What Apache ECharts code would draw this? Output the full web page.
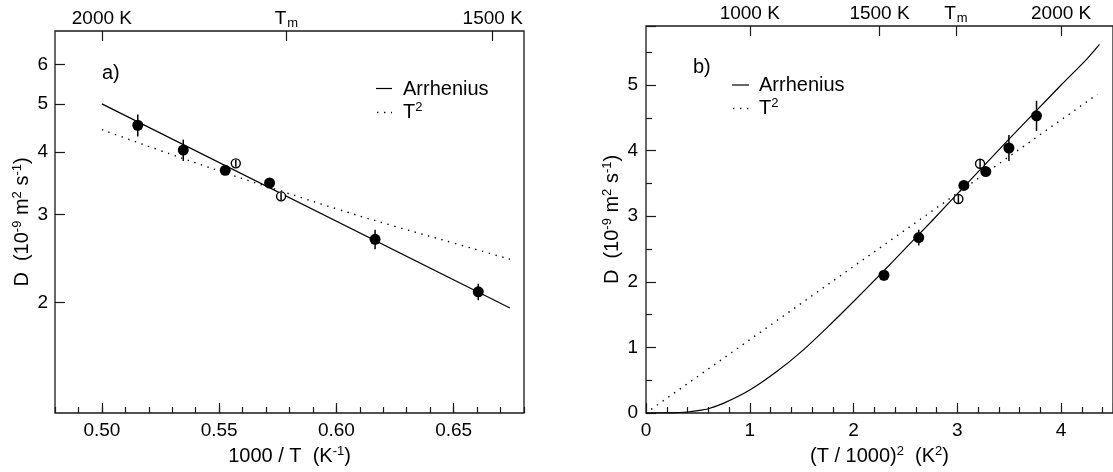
<!DOCTYPE html>
<html>
<head>
<meta charset="utf-8">
<script src="https://cdn.jsdelivr.net/npm/echarts@6/dist/echarts.min.js"></script>
<style>html,body{margin:0;padding:0;background:#fff}#c{width:1113px;height:472px}</style>
</head>
<body>
<div id="c"></div>
<script>
// ---------- data ----------
// panel a) : x = 1000/T (1/K), y = D (1e-9 m^2/s)
const filledInvT = [0.5153, 0.5347, 0.5526, 0.5715, 0.6165, 0.6605];
const filledD    = [4.53, 4.04, 3.68, 3.47, 2.675, 2.10];
const filledErr  = [0.23, 0.20, 0.03, 0.03, 0.12, 0.08];
const openInvT   = [0.5571, 0.5764];
const openD      = [3.80, 3.263];
const openErr    = [0.06, 0.06];
// panel b) : x = (T/1000)^2
const filledTsq  = [3.763, 3.497, 3.274, 3.063, 2.628, 2.293];
const openTsq    = [3.219, 3.010];

// fitted curves, panel a)
const arrhAX = [0.500, 0.674];
const arrhAY = [5.00, 1.948];
const t2AX   = [0.500, 0.525, 0.550, 0.575, 0.600, 0.625, 0.650, 0.674];
const t2AY   = [4.44, 4.03, 3.67, 3.36, 3.08, 2.84, 2.63, 2.44];
// fitted curves, panel b)
const arrhBX = [0, 0.25, 0.4, 0.5, 0.6, 0.75, 1, 1.25, 1.5, 1.75, 2, 2.25, 2.5, 2.75, 3, 3.25, 3.5, 3.75, 4, 4.25, 4.37];
const arrhBY = [0, 0.002, 0.015, 0.035, 0.065, 0.15, 0.35, 0.62, 0.94, 1.31, 1.70, 2.10, 2.51, 2.92, 3.34, 3.76, 4.18, 4.59, 5.00, 5.40, 5.62];
const t2BX   = [0.05, 4.35];
const t2BY   = [0.056, 4.86];

// axis ticks
const aXLabels   = [0.50, 0.55, 0.60, 0.65];
const aYLabels   = [2, 3, 4, 5, 6];
const aTopTemps  = [2000, 1728, 1500];
const aTopText   = ['2000 K', 'T{sub|m}', '1500 K'];
const bTopTemps  = [1000, 1500, 1728, 2000];
const bTopText   = ['1000 K', '1500 K', 'T{sub|m}', '2000 K'];

// ---------- chart ----------
const FONT = 'Liberation Sans';
const LC = '#1a1a1a';
const zip = (a, b) => a.map((v, i) => [v, b[i]]);
const errData = (xs, ys, es) => xs.map((x, i) => [x, ys[i] - es[i], ys[i] + es[i]]);
const aTopPos = aTopTemps.map(t => 1000 / t);
const bTopPos = bTopTemps.map(t => (t / 1000) * (t / 1000));
const nearestLabel = (pos, texts) => v => {
  let best = 0, bd = Infinity;
  pos.forEach((p, i) => { const d = Math.abs(p - v); if (d < bd) { bd = d; best = i; } });
  return texts[best];
};
const supRich = { sup: { fontSize: 13, fontFamily: FONT, color: '#000', fill: '#000', verticalAlign: 'top', lineHeight: 11 } };
const subRich = { sub: { fontSize: 13, fontFamily: FONT, color: '#000', verticalAlign: 'bottom', padding: [0, 0, -2, 1] } };
const lblFont = { fontFamily: FONT, fontSize: 19, color: '#000' };
const nameFont = { fontFamily: FONT, fontSize: 20, color: '#000', lineHeight: 22, rich: supRich };
const tickStyle = { color: LC, width: 1.2 };

function renderErr(params, api) {
  const x = api.value(0), lo = api.value(1), hi = api.value(2);
  const p1 = api.coord([x, lo]);
  const p2 = api.coord([x, hi]);
  return { type: 'line', shape: { x1: p1[0], y1: p1[1], x2: p2[0], y2: p2[1] },
           style: { stroke: '#000', lineWidth: 1.5 } };
}

const option = {
  animation: false,
  backgroundColor: '#fff',
  grid: [
    { left: 55, top: 31, width: 469, height: 383, show: true, borderColor: LC, borderWidth: 1.3, backgroundColor: 'transparent' },
    { left: 646, top: 26, width: 474, height: 388, show: true, borderColor: LC, borderWidth: 1.3, backgroundColor: 'transparent' }
  ],
  xAxis: [
    { gridIndex: 0, type: 'value', position: 'bottom', min: 0.48, max: 0.68, interval: 0.01,
      axisLine: { show: false }, splitLine: { show: false },
      axisTick: { inside: true, length: 6, lineStyle: tickStyle },
      axisLabel: { customValues: aXLabels, formatter: v => v.toFixed(2), margin: 8, ...lblFont },
      name: '1000 / T  (K{sup|-1})', nameLocation: 'middle', nameGap: 32, nameTextStyle: nameFont },
    { gridIndex: 0, type: 'value', position: 'bottom', min: 0.48, max: 0.68,
      axisLine: { show: false }, splitLine: { show: false }, axisLabel: { show: false },
      axisTick: { inside: true, length: 10, customValues: aXLabels, lineStyle: tickStyle } },
    { gridIndex: 0, type: 'value', position: 'top', min: 0.48, max: 0.68,
      axisLine: { show: false }, splitLine: { show: false },
      axisTick: { inside: true, length: 10, customValues: aTopPos, lineStyle: tickStyle },
      axisLabel: { customValues: aTopPos, formatter: nearestLabel(aTopPos, aTopText), margin: 3, ...lblFont, rich: subRich } },
    { gridIndex: 1, type: 'value', position: 'bottom', min: 0, max: 4.5, interval: 1,
      axisLine: { show: false }, splitLine: { show: false },
      axisTick: { inside: true, length: 10, lineStyle: tickStyle },
      minorTick: { show: true, splitNumber: 5, length: 6, lineStyle: tickStyle },
      axisLabel: { showMaxLabel: false, margin: 8, ...lblFont },
      name: '(T / 1000){sup|2}  (K{sup|2})', nameLocation: 'middle', nameGap: 32, nameTextStyle: nameFont },
    { gridIndex: 1, type: 'value', position: 'top', min: 0, max: 4.5,
      axisLine: { show: false }, splitLine: { show: false },
      axisTick: { inside: true, length: 10, customValues: bTopPos, lineStyle: tickStyle },
      axisLabel: { customValues: bTopPos, formatter: nearestLabel(bTopPos, bTopText), margin: 3, ...lblFont, rich: subRich } }
  ],
  yAxis: [
    { gridIndex: 0, type: 'log', min: 1.2, max: 7, position: 'left',
      axisLine: { show: false }, splitLine: { show: false }, minorSplitLine: { show: false },
      axisTick: { inside: true, length: 10, customValues: aYLabels, lineStyle: tickStyle },
      axisLabel: { customValues: aYLabels, formatter: v => String(Math.round(v)), margin: 7, ...lblFont },
      name: 'D  (10{sup|-9} m{sup|2} s{sup|-1})', nameLocation: 'middle', nameGap: 22, nameRotate: 90, nameTextStyle: nameFont },
    { gridIndex: 1, type: 'value', min: 0, max: 5.9, interval: 1, position: 'left',
      axisLine: { show: false }, splitLine: { show: false },
      axisTick: { inside: true, length: 10, lineStyle: tickStyle },
      minorTick: { show: true, splitNumber: 2, length: 6, lineStyle: tickStyle },
      axisLabel: { showMaxLabel: false, margin: 8, ...lblFont },
      name: 'D  (10{sup|-9} m{sup|2} s{sup|-1})', nameLocation: 'middle', nameGap: 23, nameRotate: 90, nameTextStyle: nameFont }
  ],
  series: [
    { name: 'Arrhenius', type: 'line', xAxisIndex: 0, yAxisIndex: 0, data: zip(arrhAX, arrhAY),
      symbol: 'none', lineStyle: { color: '#000', width: 1.2 } },
    { name: 'T2', type: 'line', xAxisIndex: 0, yAxisIndex: 0, data: zip(t2AX, t2AY), smooth: true,
      symbol: 'none', lineStyle: { color: '#000', width: 1.4, type: [1.4, 5.6] } },
    { type: 'scatter', xAxisIndex: 0, yAxisIndex: 0, data: zip(filledInvT, filledD),
      symbolSize: 11, itemStyle: { color: '#000', opacity: 1 }, z: 3 },
    { type: 'scatter', xAxisIndex: 0, yAxisIndex: 0, data: zip(openInvT, openD),
      symbolSize: 9, itemStyle: { color: '#fff', borderColor: '#000', borderWidth: 1.4, opacity: 1 }, z: 3 },
    { type: 'custom', xAxisIndex: 0, yAxisIndex: 0, renderItem: renderErr, z: 4,
      encode: { x: 0, y: [1, 2] },
      data: errData(filledInvT, filledD, filledErr).concat(errData(openInvT, openD, openErr)) },

    { name: 'Arrhenius', type: 'line', xAxisIndex: 3, yAxisIndex: 1, data: zip(arrhBX, arrhBY), smooth: 0.2,
      symbol: 'none', lineStyle: { color: '#000', width: 1.2 } },
    { name: 'T2', type: 'line', xAxisIndex: 3, yAxisIndex: 1, data: zip(t2BX, t2BY),
      symbol: 'none', lineStyle: { color: '#000', width: 1.4, type: [1.4, 5.6] } },
    { type: 'scatter', xAxisIndex: 3, yAxisIndex: 1, data: zip(filledTsq, filledD),
      symbolSize: 11, itemStyle: { color: '#000', opacity: 1 }, z: 3 },
    { type: 'scatter', xAxisIndex: 3, yAxisIndex: 1, data: zip(openTsq, openD),
      symbolSize: 9, itemStyle: { color: '#fff', borderColor: '#000', borderWidth: 1.4, opacity: 1 }, z: 3 },
    { type: 'custom', xAxisIndex: 3, yAxisIndex: 1, renderItem: renderErr, z: 4,
      encode: { x: 0, y: [1, 2] },
      data: errData(filledTsq, filledD, filledErr).concat(errData(openTsq, openD, openErr)) }
  ],
  graphic: [
    { type: 'text', left: 102, top: 63, style: { text: 'a)', font: '20px "Liberation Sans"', fill: '#000' } },
    { type: 'text', left: 693, top: 57, style: { text: 'b)', font: '20px "Liberation Sans"', fill: '#000' } },
    // legend, panel a
    { type: 'line', shape: { x1: 376, y1: 88.5, x2: 392, y2: 88.5 }, style: { stroke: '#000', lineWidth: 1.2 } },
    { type: 'line', shape: { x1: 377, y1: 112.5, x2: 392, y2: 112.5 }, style: { stroke: '#000', lineWidth: 1.4, lineDash: [1.4, 5.6] } },
    { type: 'text', x: 403, y: 89, style: { text: 'Arrhenius', fontSize: 20, fontFamily: FONT, fill: '#000', verticalAlign: 'middle' } },
    { type: 'text', x: 403, y: 112, style: { text: 'T{sup|2}', fontSize: 20, fontFamily: FONT, fill: '#000', verticalAlign: 'middle', lineHeight: 22, rich: supRich } },
    // legend, panel b
    { type: 'line', shape: { x1: 732, y1: 85, x2: 749, y2: 85 }, style: { stroke: '#000', lineWidth: 1.2 } },
    { type: 'line', shape: { x1: 733, y1: 108.5, x2: 749, y2: 108.5 }, style: { stroke: '#000', lineWidth: 1.4, lineDash: [1.4, 5.6] } },
    { type: 'text', x: 759, y: 85.5, style: { text: 'Arrhenius', fontSize: 20, fontFamily: FONT, fill: '#000', verticalAlign: 'middle' } },
    { type: 'text', x: 759, y: 108, style: { text: 'T{sup|2}', fontSize: 20, fontFamily: FONT, fill: '#000', verticalAlign: 'middle', lineHeight: 22, rich: supRich } }
  ]
};

const chart = echarts.init(document.getElementById('c'), null, { renderer: 'canvas' });
chart.setOption(option);
</script>
</body>
</html>
